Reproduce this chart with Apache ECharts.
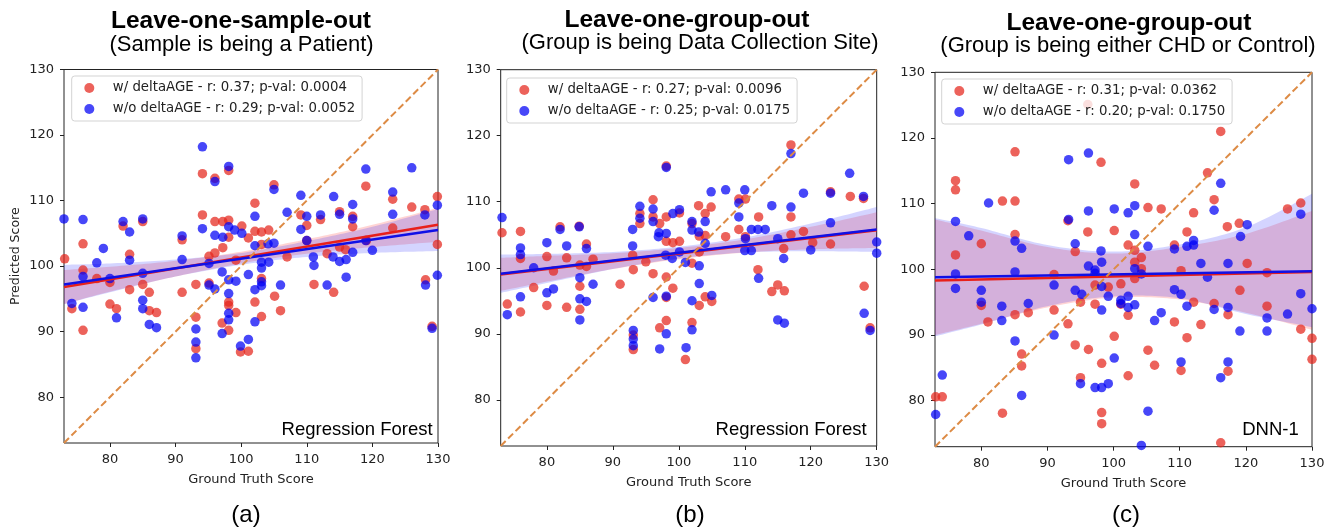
<!DOCTYPE html>
<html><head><meta charset="utf-8">
<script src="https://cdn.jsdelivr.net/npm/echarts@6/dist/echarts.min.js"></script>
<style>html,body{margin:0;padding:0;background:#fff}#c{width:1335px;height:529px}</style>
</head><body><div id="c"></div>
<script>
// ---------------- DATA ----------------
const axisRange = [73, 130];
const tickValues = [80, 90, 100, 110, 120, 130];
const fitX = [73, 130];
const bandX = [73, 80, 90, 100, 110, 120, 130];

const panelTitles = ['Leave-one-sample-out', 'Leave-one-group-out', 'Leave-one-group-out'];
const panelSubtitles = ['(Sample is being a Patient)', '(Group is being Data Collection Site)', '(Group is being either CHD or Control)'];
const modelLabels = ['Regression Forest', 'Regression Forest', 'DNN-1'];
const panelLetters = ['(a)', '(b)', '(c)'];
const legendRed = ['w/ deltaAGE - r: 0.37; p-val: 0.0004', 'w/ deltaAGE - r: 0.27; p-val: 0.0096', 'w/ deltaAGE - r: 0.31; p-val: 0.0362'];
const legendBlue = ['w/o deltaAGE - r: 0.29; p-val: 0.0052', 'w/o deltaAGE - r: 0.25; p-val: 0.0175', 'w/o deltaAGE - r: 0.20; p-val: 0.1750'];
const xAxisName = 'Ground Truth Score';
const yAxisName = 'Predicted Score';

// panel (a)
const a_red = [[94.1,114.1],[96.0,113.4],[98.1,114.6],[105.0,112.4],[102.1,109.6],[94.1,107.8],[96.0,106.8],[97.2,106.8],[98.1,107.0],[100.1,106.1],[102.1,105.3],[103.1,105.2],[104.2,105.5],[101.1,104.3],[98.1,104.4],[109.1,107.8],[110.0,106.2],[112.1,107.1],[115.0,108.3],[117.0,107.6],[117.0,106.0],[119.0,112.2],[123.1,110.2],[123.1,105.8],[126.0,109.0],[128.0,108.6],[129.9,110.6],[129.9,103.3],[82.0,106.1],[85.0,106.8],[75.9,103.4],[83.0,101.8],[91.0,104.0],[103.1,103.3],[110.0,103.9],[113.1,101.9],[115.9,102.5],[119.1,103.9],[95.1,101.5],[96.0,102.0],[97.2,102.8],[107.0,101.4],[115.0,102.9],
  [73.1,101.1],[75.9,99.4],[78.0,98.1],[80.0,97.5],[85.0,97.2],[83.0,96.4],[86.0,96.0],[74.2,93.5],[80.0,94.2],[81.0,93.5],[86.0,93.2],[87.1,92.9],[75.9,90.2],[91.0,96.0],[93.1,97.2],[95.1,97.4],[99.2,100.9],[93.1,92.2],[93.1,87.4],[97.1,91.3],[98.1,94.5],[98.1,94.0],[99.2,92.9],[98.1,90.2],[99.9,86.9],[101.1,87.0],[102.1,94.5],[103.1,98.1],[103.1,92.3],[105.1,95.4],[106.0,93.2],[111.1,97.2],[114.1,96.0],[128.1,97.9],[129.1,90.8]];
const a_blue = [[94.1,118.2],[96.0,112.9],[98.1,115.2],[105.0,111.7],[109.1,110.8],[114.1,110.6],[117.0,109.4],[119.0,114.8],[123.1,111.3],[126.0,115.0],[129.9,109.3],[128.0,107.8],[123.1,107.9],[115.0,107.9],[117.0,107.2],[112.1,107.8],[110.0,107.6],[107.0,108.2],[102.1,107.6],[109.1,105.6],[94.1,105.7],[96.0,104.7],[97.2,104.4],[98.1,106.0],[99.0,105.5],[100.1,105.0],[73.0,107.2],[75.9,107.1],[82.0,106.8],[83.0,105.2],[85.0,107.2],[79.0,102.7],[91.0,104.6],[102.1,103.1],[105.0,103.5],[104.1,103.4],[110.0,103.9],[119.0,103.9],[117.0,102.1],[120.0,102.4],[111.0,101.4],[114.0,101.4],
  [91.0,101.0],[95.1,100.4],[83.0,100.9],[78.0,100.5],[75.9,98.4],[80.0,98.1],[85.0,98.9],[74.2,94.3],[75.9,93.7],[85.0,94.8],[85.0,93.5],[81.0,92.1],[86.0,91.1],[87.1,90.6],[95.1,97.1],[96.0,96.5],[97.1,99.1],[98.1,97.9],[99.2,97.7],[98.1,95.8],[98.1,92.8],[98.1,91.8],[97.1,89.7],[93.1,90.4],[93.1,88.4],[93.1,86.0],[99.9,87.8],[101.1,88.8],[101.1,98.7],[102.1,96.4],[102.1,91.5],[103.1,100.6],[103.1,99.7],[103.1,97.6],[103.1,97.0],[104.2,100.6],[106.0,97.1],[111.1,100.1],[113.1,97.1],[115.0,100.7],[116.0,101.0],[116.0,98.3],[128.1,97.1],[129.1,90.5],[129.9,98.6]];
const a_redFit = [96.8, 106.3];
const a_blueFit = [97.2, 105.5];
const a_redLo = [94.2, 96.1, 98.4, 100.4, 101.9, 102.9, 103.7];
const a_redHi = [99.4, 99.9, 100.8, 102.2, 104.1, 106.3, 108.9];
const a_blueLo = [94.2, 96.0, 98.4, 100.2, 101.4, 102.0, 102.3];
const a_blueHi = [100.2, 100.4, 101.0, 102.0, 103.8, 106.0, 108.7];

// panel (b)
const b_red = [[117.0,118.6],[98.1,115.4],[123.0,111.5],[126.0,110.8],[128.0,110.5],[96.1,110.3],[94.1,108.2],[94.1,106.7],[96.1,107.7],[98.1,107.7],[97.1,106.7],[100.1,108.3],[103.0,109.4],[104.9,109.2],[104.0,108.2],[102.0,106.7],[109.1,110.4],[110.1,110.4],[112.1,107.7],[117.0,107.7],[109.1,105.8],[107.1,104.7],[110.1,104.7],[117.0,105.0],[118.9,105.5],[120.3,103.8],[123.0,103.6],[73.2,105.3],[76.0,105.5],[82.0,106.2],[84.9,106.3],[86.0,103.6],[98.1,104.0],[99.1,103.8],[100.1,104.0],[103.1,104.8],[104.0,104.9],[93.0,101.9],[80.0,101.7],[83.0,101.5],[103.1,102.4],[115.9,102.9],
  [76.0,101.4],[86.0,100.2],[87.0,101.3],[81.0,99.5],[85.0,100.4],[78.0,97.0],[85.0,97.2],[74.0,94.5],[76.0,93.3],[80.0,94.3],[83.0,94.0],[85.0,93.7],[91.1,97.5],[93.1,99.7],[95.0,100.9],[96.1,99.1],[98.1,98.6],[99.1,96.9],[98.1,95.5],[102.0,100.7],[93.1,89.8],[93.1,87.6],[97.1,90.9],[98.1,92.0],[102.0,91.7],[103.1,94.3],[101.0,86.1],[104.0,95.6],[105.0,94.9],[112.0,99.7],[115.0,97.4],[114.1,96.4],[116.0,96.5],[128.1,97.2],[129.0,90.9]];
const b_blue = [[117.0,117.3],[98.1,115.2],[125.9,114.3],[104.9,111.5],[107.1,111.8],[110.0,111.8],[118.9,111.3],[123.0,111.3],[128.0,110.8],[109.1,109.8],[94.1,109.3],[96.1,108.9],[99.1,108.2],[100.1,108.8],[94.1,107.5],[96.1,107.0],[102.0,107.0],[104.0,107.0],[109.1,107.7],[114.1,109.4],[117.0,109.2],[123.0,106.8],[73.2,107.6],[82.0,105.8],[84.9,106.2],[93.0,105.8],[97.0,105.3],[96.9,104.7],[98.1,105.2],[102.0,105.7],[103.0,105.4],[111.0,105.8],[112.0,105.8],[113.1,105.8],[110.1,104.4],[115.0,104.4],[80.0,103.8],[83.0,103.3],[86.0,102.9],[93.0,103.3],[76.0,103.0],[76.0,102.0],[104.0,103.7],[98.0,101.9],[99.0,101.4],[100.1,102.4],[110.0,102.6],[111.0,102.6],[120.0,102.7],[130.0,103.9],[130.0,102.2],[115.9,101.4],
  [78.0,100.0],[81.0,96.8],[80.0,96.2],[76.0,95.6],[74.0,92.9],[85.0,98.5],[87.0,97.5],[85.0,95.3],[86.0,94.9],[85.0,92.1],[101.0,100.8],[103.1,100.3],[103.1,97.6],[96.1,95.5],[98.1,95.7],[102.0,95.0],[105.0,95.8],[93.1,90.5],[93.1,89.2],[93.1,88.2],[98.1,90.0],[97.1,87.7],[101.1,87.9],[102.0,90.6],[112.1,98.4],[115.0,92.1],[116.0,91.6],[128.1,93.1],[129.0,90.5]];
const b_redFit = [99.0, 105.7];
const b_blueFit = [99.1, 105.8];
const b_redLo = [96.5, 97.9, 99.8, 101.3, 102.3, 102.8, 103.0];
const b_redHi = [101.5, 101.8, 102.2, 103.0, 104.3, 106.2, 108.4];
const b_blueLo = [96.2, 97.7, 99.8, 101.4, 102.3, 102.5, 102.4];
const b_blueHi = [102.0, 102.1, 102.4, 103.2, 104.6, 106.7, 109.2];

// panel (c)
const c_red = [[96.1,125.1],[116.2,121.0],[85.1,117.9],[98.1,116.3],[76.1,113.5],[76.1,112.1],[114.2,114.7],[103.2,113.0],[83.2,110.4],[85.1,110.4],[115.2,110.6],[105.2,109.4],[107.2,109.2],[112.1,108.6],[126.3,109.2],[128.3,110.1],[93.1,107.4],[117.2,106.5],[119.0,107.0],[96.1,105.7],[100.1,105.9],[111.1,105.7],[85.1,105.3],[80.0,103.9],[102.2,103.7],[103.2,102.9],[104.2,101.8],[94.2,102.7],[109.2,103.7],[76.1,102.2],
  [120.2,100.9],[123.2,99.5],[103.2,101.1],[103.2,98.6],[104.2,100.1],[101.1,97.8],[97.2,97.6],[99.2,97.3],[91.0,99.2],[110.2,99.8],[119.1,96.8],[123.2,94.4],[112.1,95.0],[115.2,94.8],[80.0,94.5],[85.1,93.1],[87.1,93.4],[81.0,92.0],[91.0,93.8],[93.1,91.7],[95.0,95.0],[97.2,94.7],[101.1,94.7],[102.2,93.0],[109.2,92.0],[113.2,91.6],[117.3,93.1],[128.3,90.9],[130.0,89.5],[130.0,86.3],[100.1,89.8],[94.2,88.5],[96.2,87.8],[105.2,87.7],[106.2,85.4],[86.1,87.1],[86.1,85.3],[98.2,85.7],[102.2,83.8],[95.0,83.5],[110.2,84.6],[117.3,84.5],[111.1,89.6],[73.1,80.6],[74.1,80.6],[83.2,78.1],[98.2,78.2],[98.2,76.5],[116.2,73.6]];
const c_blue = [[96.2,117.7],[93.2,116.7],[116.2,113.1],[81.1,110.1],[96.2,108.9],[100.1,109.2],[102.2,108.6],[103.2,109.7],[115.2,109.0],[128.3,108.4],[76.1,107.3],[93.2,107.6],[78.1,105.1],[103.2,105.3],[119.2,105.0],[120.2,106.8],[85.1,104.3],[86.1,103.2],[94.2,103.9],[98.1,102.8],[105.2,103.5],[109.2,103.1],[111.1,103.5],[112.1,104.4],[112.1,103.7],
  [76.1,99.3],[76.1,97.1],[85.1,99.6],[80.0,96.8],[80.0,95.0],[83.1,94.4],[83.1,92.2],[87.1,94.8],[91.0,97.6],[94.2,96.8],[95.2,96.2],[96.2,100.5],[97.2,99.9],[97.2,99.4],[98.2,101.1],[98.2,97.4],[99.2,95.9],[101.1,95.3],[101.1,94.8],[102.2,95.9],[102.2,94.2],[103.2,100.1],[103.2,94.6],[104.2,99.3],[98.2,93.8],[106.2,92.2],[107.2,93.4],[109.2,96.9],[110.2,96.2],[111.1,94.4],[113.2,100.9],[114.2,98.8],[115.2,93.9],[117.3,100.9],[117.3,94.2],[119.1,90.6],[123.2,92.6],[123.2,90.6],[126.3,93.2],[128.3,96.3],[130.0,94.0],[91.0,90.0],[85.1,89.1],[100.1,86.5],[110.2,85.9],[117.3,85.9],[116.2,83.5],[95.0,82.6],[97.2,82.0],[98.2,82.0],[99.2,82.6],[74.1,83.9],[86.1,80.8],[73.1,77.9],[105.2,78.4],[104.2,73.2]];
const c_redFit = [98.3, 99.6];
const c_blueFit = [98.8, 99.7];
const c_redLo = [90.0, 91.7, 94.2, 95.7, 95.4, 93.4, 90.8];
const c_redHi = [107.6, 105.9, 103.4, 102.4, 103.4, 105.4, 108.9];
const c_blueLo = [89.8, 91.6, 94.4, 95.9, 95.6, 93.2, 91.2];
const c_blueHi = [107.8, 106.3, 103.7, 102.7, 103.8, 106.4, 111.5];

// ---------------- LAYOUT / STYLE ----------------
const grids = [
  {left: 64, top: 69.5, width: 374, height: 373.5},
  {left: 500.7, top: 69.7, width: 376, height: 376.3},
  {left: 935, top: 72.3, width: 377, height: 374.4}
];
const legendPos = [{left: 71.7, top: 76}, {left: 506.7, top: 78}, {left: 941.7, top: 79}];
const titlePos = [
  {x: 241, y: 21.3, sx: 241.5, sy: 45},
  {x: 687, y: 20.3, sx: 700, sy: 42.5},
  {x: 1129, y: 23.7, sx: 1128, sy: 46}
];
const modelPos = [{x: 432.7, y: 429.6}, {x: 866.7, y: 429.6}, {x: 1298.7, y: 429.6}];
const letterPos = [{x: 246, y: 515.5}, {x: 690, y: 515.5}, {x: 1126, y: 515.5}];

const RED_PT = 'rgba(228,38,28,0.9)';
const BLUE_PT = 'rgba(0,0,245,0.9)';
const RED_LINE = '#e8201a';
const BLUE_LINE = '#1010e6';
const RED_BAND = 'rgba(255,0,0,0.17)';
const BLUE_BAND = 'rgba(0,0,255,0.17)';
const DIAG = '#dd8b45';
const TICK_FONT = 'DejaVu Sans';
const SANS = 'Liberation Sans';

const panels = [
  {red: a_red, blue: a_blue, redFit: a_redFit, blueFit: a_blueFit, redLo: a_redLo, redHi: a_redHi, blueLo: a_blueLo, blueHi: a_blueHi},
  {red: b_red, blue: b_blue, redFit: b_redFit, blueFit: b_blueFit, redLo: b_redLo, redHi: b_redHi, blueLo: b_blueLo, blueHi: b_blueHi},
  {red: c_red, blue: c_blue, redFit: c_redFit, blueFit: c_blueFit, redLo: c_redLo, redHi: c_redHi, blueLo: c_blueLo, blueHi: c_blueHi}
];

// Catmull-Rom smoothing of pixel points (rendering only)
function smoothPixels(pts) {
  const out = [];
  const n = pts.length;
  for (let i = 0; i < n - 1; i++) {
    const p0 = pts[Math.max(i - 1, 0)], p1 = pts[i], p2 = pts[i + 1], p3 = pts[Math.min(i + 2, n - 1)];
    const c1 = [p1[0] + (p2[0] - p0[0]) / 6, p1[1] + (p2[1] - p0[1]) / 6];
    const c2 = [p2[0] - (p3[0] - p1[0]) / 6, p2[1] - (p3[1] - p1[1]) / 6];
    const steps = 16;
    for (let s = (i === 0 ? 0 : 1); s <= steps; s++) {
      const t = s / steps, u = 1 - t;
      out.push([
        u*u*u*p1[0] + 3*u*u*t*c1[0] + 3*u*t*t*c2[0] + t*t*t*p2[0],
        u*u*u*p1[1] + 3*u*u*t*c1[1] + 3*u*t*t*c2[1] + t*t*t*p2[1]
      ]);
    }
  }
  return out;
}

function bandSeries(gi, lo, hi, color) {
  return {
    type: 'custom', xAxisIndex: gi, yAxisIndex: gi, silent: true,
    data: bandX.map((x, i) => [x, lo[i], hi[i]]),
    encode: {x: 0, y: [1, 2]},
    renderItem: function (params, api) {
      if (params.dataIndex !== 0) return null;
      const up = bandX.map((x, i) => api.coord([x, hi[i]]));
      const dn = bandX.map((x, i) => api.coord([x, lo[i]]));
      const pts = smoothPixels(up).concat(smoothPixels(dn).reverse());
      return {type: 'polygon', shape: {points: pts}, style: {fill: color, stroke: null}};
    }
  };
}
function fitSeries(gi, ys, color) {
  return {type: 'line', xAxisIndex: gi, yAxisIndex: gi, symbol: 'none', silent: true,
    lineStyle: {color: color, width: 2.6}, data: fitX.map((x, i) => [x, ys[i]])};
}

const option = {animation: false, backgroundColor: '#fff', grid: [], xAxis: [], yAxis: [], series: [], legend: [], graphic: []};

panels.forEach((p, gi) => {
  option.grid.push(Object.assign({show: true, borderColor: '#222', borderWidth: 1, backgroundColor: 'transparent'}, grids[gi]));
  const axisCommon = {
    type: 'value', gridIndex: gi, min: axisRange[0], max: axisRange[1],
    splitLine: {show: false}, axisLine: {show: false},
    axisTick: {show: true, length: 4, customValues: tickValues, lineStyle: {color: '#222', width: 1}},
    axisLabel: {customValues: tickValues, fontFamily: TICK_FONT, fontSize: 13, color: '#222'}
  };
  option.xAxis.push(Object.assign({}, axisCommon, {
    axisLabel: Object.assign({}, axisCommon.axisLabel, {margin: 10}),
    name: xAxisName, nameLocation: 'middle', nameGap: 30,
    nameTextStyle: {fontFamily: TICK_FONT, fontSize: 13, color: '#222'}
  }));
  const y = Object.assign({}, axisCommon, {axisLabel: Object.assign({}, axisCommon.axisLabel, {margin: 10})});
  if (gi === 0) {
    y.name = yAxisName; y.nameLocation = 'middle'; y.nameGap = 42;
    y.nameTextStyle = {fontFamily: TICK_FONT, fontSize: 12.5, color: '#222'};
  }
  option.yAxis.push(y);

  option.series.push({type: 'scatter', name: legendRed[gi], xAxisIndex: gi, yAxisIndex: gi, symbolSize: 9.5,
    itemStyle: {color: RED_PT}, data: p.red});
  option.series.push(fitSeries(gi, p.redFit, RED_LINE));
  option.series.push(bandSeries(gi, p.redLo, p.redHi, RED_BAND));
  option.series.push({type: 'scatter', name: legendBlue[gi], xAxisIndex: gi, yAxisIndex: gi, symbolSize: 9.5,
    itemStyle: {color: BLUE_PT}, data: p.blue});
  option.series.push(fitSeries(gi, p.blueFit, BLUE_LINE));
  option.series.push(bandSeries(gi, p.blueLo, p.blueHi, BLUE_BAND));
  option.series.push({type: 'line', xAxisIndex: gi, yAxisIndex: gi, symbol: 'none', silent: true, z: 3,
    lineStyle: {color: DIAG, width: 2, type: [7, 3.5]}, data: [[axisRange[0], axisRange[0]], [axisRange[1], axisRange[1]]]});

  option.legend.push({
    data: [legendRed[gi], legendBlue[gi]], left: legendPos[gi].left, top: legendPos[gi].top,
    orient: 'vertical', icon: 'circle', itemWidth: 25, itemHeight: 10, itemGap: 7,
    padding: [5, 7, 5, 12.6], backgroundColor: 'rgba(255,255,255,0.8)', borderColor: '#d3d3d3', borderWidth: 1, borderRadius: 3,
    selectedMode: false,
    textStyle: {fontFamily: TICK_FONT, fontSize: 13.3, color: '#222', lineHeight: 14, padding: [0, 0, 0, 6]}
  });

  option.graphic.push(
    {type: 'text', style: {text: panelTitles[gi], x: titlePos[gi].x, y: titlePos[gi].y, font: 'bold 24.5px "' + SANS + '"', fill: '#000', align: 'center', verticalAlign: 'middle'}},
    {type: 'text', style: {text: panelSubtitles[gi], x: titlePos[gi].sx, y: titlePos[gi].sy, font: '22px "' + SANS + '"', fill: '#000', align: 'center', verticalAlign: 'middle'}},
    {type: 'text', z: 10, style: {text: modelLabels[gi], x: modelPos[gi].x, y: modelPos[gi].y, font: '18.5px "' + SANS + '"', fill: '#000', align: 'right', verticalAlign: 'middle'}},
    {type: 'text', style: {text: panelLetters[gi], x: letterPos[gi].x, y: letterPos[gi].y, font: '24px "' + SANS + '"', fill: '#000', align: 'center', verticalAlign: 'middle'}}
  );
});

const chart = echarts.init(document.getElementById('c'), null, {renderer: 'canvas'});
chart.setOption(option);
</script>
</body></html>
